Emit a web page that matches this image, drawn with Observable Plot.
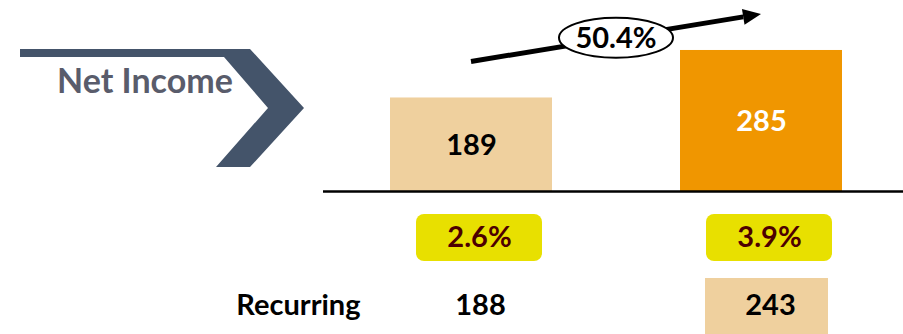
<!DOCTYPE html>
<html><head><meta charset="utf-8">
<script src="https://cdn.jsdelivr.net/npm/d3@7"></script>
<script src="https://cdn.jsdelivr.net/npm/@observablehq/plot@0.6"></script>
<style>
html,body{margin:0;padding:0;background:#fff;}
#chart{position:relative;width:903px;height:334px;overflow:hidden;font-family:Lato,"Open Sans",sans-serif;}
#chart svg{position:absolute;left:0;overflow:visible;}
</style></head><body><div id="chart"></div>
<script>
// ---- data ----
const periods = ["Prior", "Current"];
const netIncome = [189, 285];
const netMargin = ["2.6%", "3.9%"];
const recurring = [188, 243];
const highlightRecurring = [false, true];
const growthLabel = "50.4%";
const titleLabel = "Net Income";
const rowLabel = "Recurring";

const bars = periods.map((p, i) => ({period: p, value: netIncome[i]}));
const rows = periods.map((p, i) => ({period: p, margin: netMargin[i], recurring: recurring[i], hl: highlightRecurring[i]}));

const FONT = "Lato, 'Open Sans', sans-serif";
const xOpts = {domain: periods, range: [389, 842], paddingInner: 0.443, paddingOuter: 0, axis: null};

function bandCenter(x, v) {
  const bw = typeof x.bandwidth === "function" ? x.bandwidth() : 0;
  return x(v) + bw / 2;
}

// decoration: chevron + title
const chevronMark = () => {
  const g = d3.create("svg:g");
  g.append("path")
    .attr("d", "M20,49 L250,49 L304,108 L250,167 L216,167 L268,108 L224,57 L20,57 Z")
    .attr("fill", "#44546a");
  g.append("text")
    .attr("x", 57).attr("y", 93)
    .attr("text-anchor", "start")
    .attr("font-family", FONT).attr("font-weight", 700).attr("font-size", 34)
    .attr("fill", "#595c6b")
    .text(titleLabel);
  return g.node();
};

// growth arrow + ellipse label, positioned with the plot's scales
const growthMark = (index, scales) => {
  const x = scales.x, y = scales.y;
  const lift = 36;
  const x1 = bandCenter(x, periods[0]), x2 = bandCenter(x, periods[1]);
  const y1 = y(netIncome[0]) - lift, y2 = y(netIncome[1]) - lift;
  const ang = Math.atan2(y2 - y1, x2 - x1);
  const hl = 18, hw = 8;
  const bx = x2 - hl * Math.cos(ang), by = y2 - hl * Math.sin(ang);
  const g = d3.create("svg:g");
  g.append("line").attr("x1", x1).attr("y1", y1).attr("x2", bx).attr("y2", by)
    .attr("stroke", "#000").attr("stroke-width", 5);
  const px = -Math.sin(ang) * hw, py = Math.cos(ang) * hw;
  g.append("path")
    .attr("d", `M${x2},${y2} L${bx + px},${by + py} L${bx - px},${by - py} Z`)
    .attr("fill", "#000");
  const cx = (x1 + x2) / 2, cy = (y1 + y2) / 2;
  g.append("ellipse").attr("cx", cx).attr("cy", cy).attr("rx", 57).attr("ry", 20)
    .attr("fill", "#fff").attr("stroke", "#000").attr("stroke-width", 2);
  g.append("text").attr("x", cx).attr("y", cy).attr("dy", "0.36em")
    .attr("text-anchor", "middle")
    .attr("font-family", FONT).attr("font-weight", 700).attr("font-size", 29)
    .attr("fill", "#000").text(growthLabel);
  return g.node();
};

const topPlot = Plot.plot({
  width: 903, height: 200,
  marginTop: 0, marginBottom: 9, marginLeft: 323, marginRight: 0,
  x: xOpts,
  y: {domain: [0, 386], axis: null},
  color: {domain: periods, range: ["#efd09e", "#f09600"]},
  style: {fontFamily: FONT, background: "transparent", overflow: "visible"},
  marks: [
    chevronMark,
    Plot.barY(bars, {x: "period", y: "value", fill: "period"}),
    Plot.ruleY([0], {stroke: "#000", strokeWidth: 2.5}),
    Plot.text(bars.filter(d => d.period === periods[0]), {x: "period", y: d => d.value / 2, text: d => String(d.value), fill: "#000", fontSize: 29, fontWeight: 700, dy: 1}),
    Plot.text(bars.filter(d => d.period === periods[1]), {x: "period", y: d => d.value / 2, text: d => String(d.value), fill: "#fff", fontSize: 29, fontWeight: 700, dy: 1}),
    growthMark
  ]
});
topPlot.style.top = "0px";

const bottomPlot = Plot.plot({
  width: 903, height: 134,
  marginTop: 0, marginBottom: 0, marginLeft: 323, marginRight: 0,
  x: xOpts,
  y: {domain: ["margin", "recurring"], range: [0, 134], padding: 0, axis: null},
  style: {fontFamily: FONT, background: "transparent", overflow: "visible"},
  marks: [
    Plot.cell(rows, {x: "period", y: () => "margin", fill: "#e8e000", rx: 8, insetLeft: 26, insetRight: 10, insetTop: 14, insetBottom: 6}),
    Plot.cell(rows.filter(d => d.hl), {x: "period", y: () => "recurring", fill: "#efd09e", insetLeft: 25, insetRight: 14, insetTop: 11, insetBottom: 0}),
    Plot.text(rows, {x: "period", y: () => "margin", text: "margin", fill: "#4d0000", fontSize: 29, fontWeight: 700, dx: 8, dy: 4}),
    Plot.text(rows, {x: "period", y: () => "recurring", text: d => String(d.recurring), fill: "#000", fontSize: 29, fontWeight: 700, dx: 9, dy: 5}),
    Plot.text([rowLabel], {frameAnchor: "left", y: () => "recurring", text: d => d, textAnchor: "end", dx: 37, dy: 5, fill: "#000", fontSize: 29, fontWeight: 700})
  ]
});
bottomPlot.style.top = "200px";

const chart = document.getElementById("chart");
chart.append(topPlot, bottomPlot);
</script>
</body></html>
